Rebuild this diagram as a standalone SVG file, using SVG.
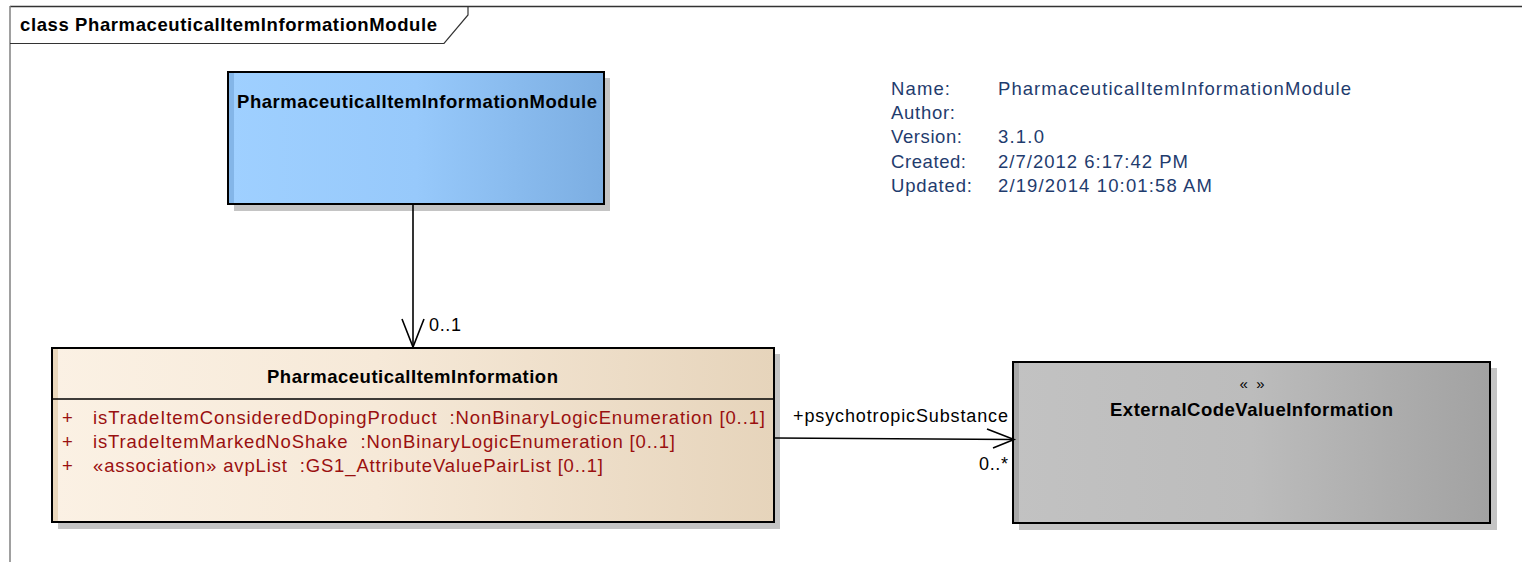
<svg xmlns="http://www.w3.org/2000/svg" width="1522" height="562" viewBox="0 0 1522 562">
<style>
text{font-family:"Liberation Sans",Arial,sans-serif;white-space:pre;}
.b{font-weight:bold;fill:#000;font-size:18.5px;}
.attr{fill:#9a1010;font-size:18.5px;}
.info{fill:#1f3c6e;font-size:18.5px;}
.lbl{fill:#000;font-size:18px;}
.shadow{fill:#c4c4c4;}
.border{fill:none;stroke:#000;stroke-width:2;}
.conn{fill:none;stroke:#000;stroke-width:1.6;}
</style>
<defs>
<linearGradient id="gBlue" x1="0" x2="1" y1="0" y2="0">
<stop offset="0" stop-color="#9fd0ff"/><stop offset="0.5" stop-color="#97c9fb"/><stop offset="1" stop-color="#7caee2"/>
</linearGradient>
<linearGradient id="gTan" x1="0" x2="1" y1="0" y2="0">
<stop offset="0" stop-color="#fbf1e4"/><stop offset="0.45" stop-color="#f6e9d8"/><stop offset="1" stop-color="#e6d4bb"/>
</linearGradient>
<linearGradient id="gGray" x1="0" x2="1" y1="0" y2="0">
<stop offset="0" stop-color="#c2c2c2"/><stop offset="0.5" stop-color="#bcbcbc"/><stop offset="1" stop-color="#a2a2a2"/>
</linearGradient>
</defs>
<g id="frame">
<line x1="10" y1="6.5" x2="1522" y2="6.5" stroke="#333" stroke-width="1.5"/>
<line x1="10" y1="6" x2="10" y2="562" stroke="#808080" stroke-width="1.5"/>
<path d="M10 43.5 H444 L468 15 V6.5" fill="none" stroke="#333" stroke-width="1.2"/>
<text x="20" y="31" class="b" textLength="417">class PharmaceuticalItemInformationModule</text>
</g>
<g id="info">
<text x="891" y="95" class="info" textLength="59">Name:</text>
<text x="998" y="95" class="info" textLength="353">PharmaceuticalItemInformationModule</text>
<text x="891" y="119" class="info" textLength="64">Author:</text>
<text x="891" y="143" class="info" textLength="71">Version:</text>
<text x="998" y="143" class="info" textLength="46">3.1.0</text>
<text x="891" y="168" class="info" textLength="75">Created:</text>
<text x="998" y="168" class="info" textLength="190">2/7/2012 6:17:42 PM</text>
<text x="891" y="192" class="info" textLength="81">Updated:</text>
<text x="998" y="192" class="info" textLength="214">2/19/2014 10:01:58 AM</text>
</g>
<g id="PharmaceuticalItemInformationModule">
<rect x="234" y="78" width="376" height="133" class="shadow"/>
<rect x="228" y="72" width="376" height="132" fill="url(#gBlue)"/>
<rect x="229" y="73" width="5" height="130" fill="#84b6e8"/>
<rect x="228" y="72" width="376" height="132" class="border"/>
<text x="237" y="108" class="b" textLength="360">PharmaceuticalItemInformationModule</text>
</g>
<g id="PharmaceuticalItemInformation">
<rect x="58" y="354" width="722" height="175" class="shadow"/>
<rect x="52" y="348" width="722" height="174" fill="url(#gTan)"/>
<rect x="53" y="349" width="5" height="172" fill="#ead8bd"/>
<rect x="52" y="348" width="722" height="174" class="border"/>
<line x1="52" y1="399" x2="774" y2="399" stroke="#000" stroke-width="1.5"/>
<text x="267" y="383" class="b" textLength="291">PharmaceuticalItemInformation</text>
<text x="62" y="424" class="attr">+</text>
<text x="93" y="424" class="attr" textLength="672">isTradeItemConsideredDopingProduct  :NonBinaryLogicEnumeration [0..1]</text>
<text x="62" y="448" class="attr">+</text>
<text x="93" y="448" class="attr" textLength="582">isTradeItemMarkedNoShake  :NonBinaryLogicEnumeration [0..1]</text>
<text x="62" y="472" class="attr">+</text>
<text x="93" y="472" class="attr" textLength="510">«association» avpList  :GS1_AttributeValuePairList [0..1]</text>
</g>
<g id="ExternalCodeValueInformation">
<rect x="1019" y="368" width="478" height="162" class="shadow"/>
<rect x="1013" y="362" width="477" height="161" fill="url(#gGray)"/>
<rect x="1014" y="363" width="5" height="159" fill="#a8a8a8"/>
<rect x="1013" y="362" width="477" height="161" class="border"/>
<text x="1252" y="389" text-anchor="middle" style="font-size:15px;fill:#000">«  »</text>
<text x="1110" y="416" class="b" textLength="283">ExternalCodeValueInformation</text>
</g>
<g id="connectors">
<line x1="413" y1="204" x2="413" y2="347" class="conn"/>
<path d="M402 319 L413 347 L424 319" class="conn"/>
<text x="429" y="331" class="lbl" textLength="32">0..1</text>
<line x1="775" y1="438" x2="1014" y2="439.5" class="conn"/>
<path d="M987 429 L1014 439.5 L993 448" class="conn"/>
<text x="793" y="422" class="lbl" textLength="215">+psychotropicSubstance</text>
<text x="979" y="470" class="lbl" textLength="29">0..*</text>
</g>
</svg>
